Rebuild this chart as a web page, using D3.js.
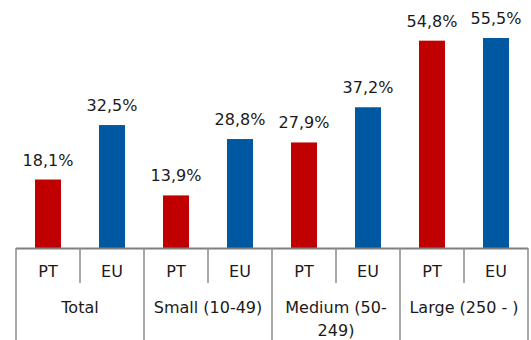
<!DOCTYPE html>
<html>
<head>
<meta charset="utf-8">
<script src="https://cdn.jsdelivr.net/npm/d3@7"></script>
<style>
  html, body { margin: 0; padding: 0; background: #fff; }
  svg { display: block; font-family: "DejaVu Sans", sans-serif; }
</style>
</head>
<body>
<svg id="chart" width="531" height="340"></svg>
<script>
// Share of enterprises by size class, Portugal vs EU
const groups = ["Total", "Small (10-49)", "Medium (50-249)", "Large (250 - )"];
const groupLines = [["Total"], ["Small (10-49)"], ["Medium (50-", "249)"], ["Large (250 - )"]];
const series = ["PT", "EU"];
const ptValues = [18.1, 13.9, 27.9, 54.8];
const euValues = [32.5, 28.8, 37.2, 55.5];
const colors = { PT: "#C00000", EU: "#0058A0" };

const rows = groups.map((g, i) => ({ group: g, PT: ptValues[i], EU: euValues[i] }));
const fmt = v => v.toFixed(1).replace(".", ",") + "%";

const svg = d3.select("#chart");
const left = 16, right = 528, baseY = 248, bottom = 340;

const x0 = d3.scaleBand().domain(groups).range([left, right]).padding(0);
const x1 = d3.scaleBand().domain(series).range([0, x0.bandwidth()]).padding(0);
const y = d3.scaleLinear().domain([0, 60]).range([baseY, 21]);
const barW = 26;

const g = svg.selectAll("g.group").data(rows).join("g")
  .attr("class", "group")
  .attr("transform", d => `translate(${x0(d.group)},0)`);

const cells = g.selectAll("g.cell")
  .data(d => series.map(s => ({ s, v: d[s] })))
  .join("g").attr("class", "cell");

cells.append("rect")
  .attr("x", d => x1(d.s) + (x1.bandwidth() - barW) / 2)
  .attr("width", barW)
  .attr("y", d => y(d.v))
  .attr("height", d => baseY - y(d.v))
  .attr("fill", d => colors[d.s]);

cells.append("text")
  .attr("x", d => x1(d.s) + x1.bandwidth() / 2)
  .attr("y", d => y(d.v) - 14)
  .attr("text-anchor", "middle")
  .attr("font-size", 16)
  .attr("fill", "#1a1a1a")
  .text(d => fmt(d.v));

// Two-level category axis
const axis = svg.append("g");
axis.append("line")
  .attr("x1", left).attr("x2", right)
  .attr("y1", baseY + 0.5).attr("y2", baseY + 0.5)
  .attr("stroke", "#7f7f7f").attr("stroke-width", 2);

// group boundaries, full height
const bounds = groups.map(d => x0(d)).concat([right]);
axis.selectAll("line.gb").data(bounds).join("line")
  .attr("class", "gb")
  .attr("x1", d => d).attr("x2", d => d)
  .attr("y1", baseY).attr("y2", bottom)
  .attr("stroke", "#8c8c8c").attr("stroke-width", 1.5);

// series separators within each group
axis.selectAll("line.sb").data(groups).join("line")
  .attr("class", "sb")
  .attr("x1", d => x0(d) + x1("EU")).attr("x2", d => x0(d) + x1("EU"))
  .attr("y1", baseY).attr("y2", 283)
  .attr("stroke", "#8c8c8c").attr("stroke-width", 1.5);

// series labels
const seriesLabels = [];
groups.forEach(gr => series.forEach(s => seriesLabels.push({ gr, s })));
axis.selectAll("text.sl").data(seriesLabels).join("text")
  .attr("class", "sl")
  .attr("x", d => x0(d.gr) + x1(d.s) + x1.bandwidth() / 2)
  .attr("y", 277)
  .attr("text-anchor", "middle")
  .attr("font-size", 16)
  .attr("fill", "#1a1a1a")
  .text(d => d.s);

// group labels
axis.selectAll("text.gl").data(groups).join("text")
  .attr("class", "gl")
  .attr("x", d => x0(d) + x0.bandwidth() / 2)
  .attr("y", 313)
  .attr("text-anchor", "middle")
  .attr("font-size", 16)
  .attr("fill", "#1a1a1a")
  .selectAll("tspan").data((d, i) => groupLines[i]).join("tspan")
  .attr("x", function() { return this.parentNode.getAttribute("x"); })
  .attr("dy", (d, i) => i === 0 ? 0 : 23)
  .text(d => d);
</script>
</body>
</html>
